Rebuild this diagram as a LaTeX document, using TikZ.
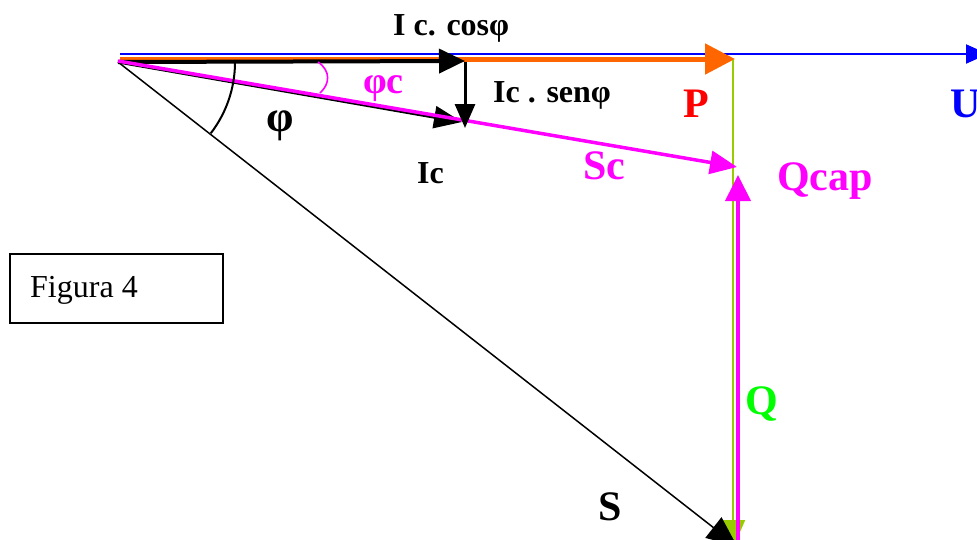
\documentclass[tikz,border=0pt]{standalone}
\usepackage{fontspec}
\setmainfont{Liberation Serif}
\usetikzlibrary{arrows.meta}
\definecolor{cblue}{HTML}{0000FF}
\definecolor{corange}{HTML}{FF6600}
\definecolor{cmag}{HTML}{FF00FF}
\definecolor{cred}{HTML}{FF0000}
\definecolor{cgline}{HTML}{99CC00}
\definecolor{cgtext}{HTML}{00FF00}
\tikzset{
  lblsmall/.style={font=\fontsize{32}{36}\selectfont\bfseries, inner sep=0pt, anchor=base west},
  lblbig/.style={font=\fontsize{42}{46}\selectfont\bfseries, inner sep=0pt, anchor=base west},
}
\begin{document}
\begin{tikzpicture}[x=1pt,y=-1pt]
\useasboundingbox (0,0) rectangle (977,539);
\clip (0,0) rectangle (977,539);
% coordinates
\coordinate (O) at (118,62);
\coordinate (Ub) at (120,54);
\coordinate (Ut) at (988,54);
\coordinate (Pb) at (120,59);
\coordinate (Pt) at (735,59);
\coordinate (Icos) at (465,61);
\coordinate (Ict) at (462,122);
\coordinate (Isb) at (465,62);
\coordinate (Ist) at (465,128);
\coordinate (Sco) at (118,61);
\coordinate (Sct) at (737,167);
\coordinate (Gt) at (733,60);
\coordinate (Gb) at (733,548);
\coordinate (Qb) at (738,545);
\coordinate (Qt) at (738,175);
\coordinate (St) at (737,546);
% U
\draw[cblue, line width=2, -{Triangle[length=22,width=19]}] (Ub) -- (Ut);
% P
\draw[corange, line width=5, -{Triangle[length=30,width=30]}] (Pb) -- (Pt);
% green vertical
\draw[cgline, line width=2, -{Triangle[length=28,width=24]}] (Gt) -- (Gb);
% S
\draw[black, line width=1.5, -{Triangle[length=30,width=26]}] (O) -- (St);
% I c cos
\draw[black, line width=4, -{Triangle[length=26,width=24]}] (O) -- (Icos);
% Ic
\draw[black, line width=3, -{Triangle[length=28,width=22]}] (O) -- (Ict);
% Sc
\draw[cmag, line width=3.5, -{Triangle[length=27,width=23]}] (Sco) -- (Sct);
% Ic sen
\draw[black, line width=3, -{Triangle[length=24,width=20]}] (Isb) -- (Ist);
% Qcap
\draw[cmag, line width=4, -{Triangle[length=26,width=25]}] (Qb) -- (Qt);
% angle arcs
\draw[black, line width=2] plot[domain=0:37.5, samples=40] ({118+117*cos(\x)},{62+117*sin(\x)});
\draw[cmag, line width=1.6] (318,62) .. controls (331,71) and (330,84) .. (320,93);
% labels
\node[lblsmall] (lcos) at (393,35) {I c. cosφ};
\node[lblsmall] (lsen) at (493,102) {Ic . senφ};
\node[lblsmall] (lic) at (417,183) {Ic};
\node[lblbig, cmag, font=\fontsize{38}{42}\selectfont\bfseries] (lphic) at (363,93) {φc};
\node[lblbig, font=\fontsize{44}{48}\selectfont\bfseries] (lphi) at (266,131) {φ};
\node[lblbig, cmag] (lsc) at (583,179) {Sc};
\node[lblbig, cred] (lp) at (683,117) {P};
\node[lblbig, cblue] (lu) at (950,117) {U};
\node[lblbig, cmag] (lqcap) at (777,190) {Qcap};
\node[lblbig, cgtext] (lq) at (745,414) {Q};
\node[lblbig] (ls) at (598,520) {S};
% Figura box
\draw[line width=1.5] (10,254) rectangle (223,323);
\node[font=\fontsize{32}{36}\selectfont, inner sep=0pt, anchor=base west] (fig) at (30,297) {Figura 4};
\end{tikzpicture}
\end{document}
